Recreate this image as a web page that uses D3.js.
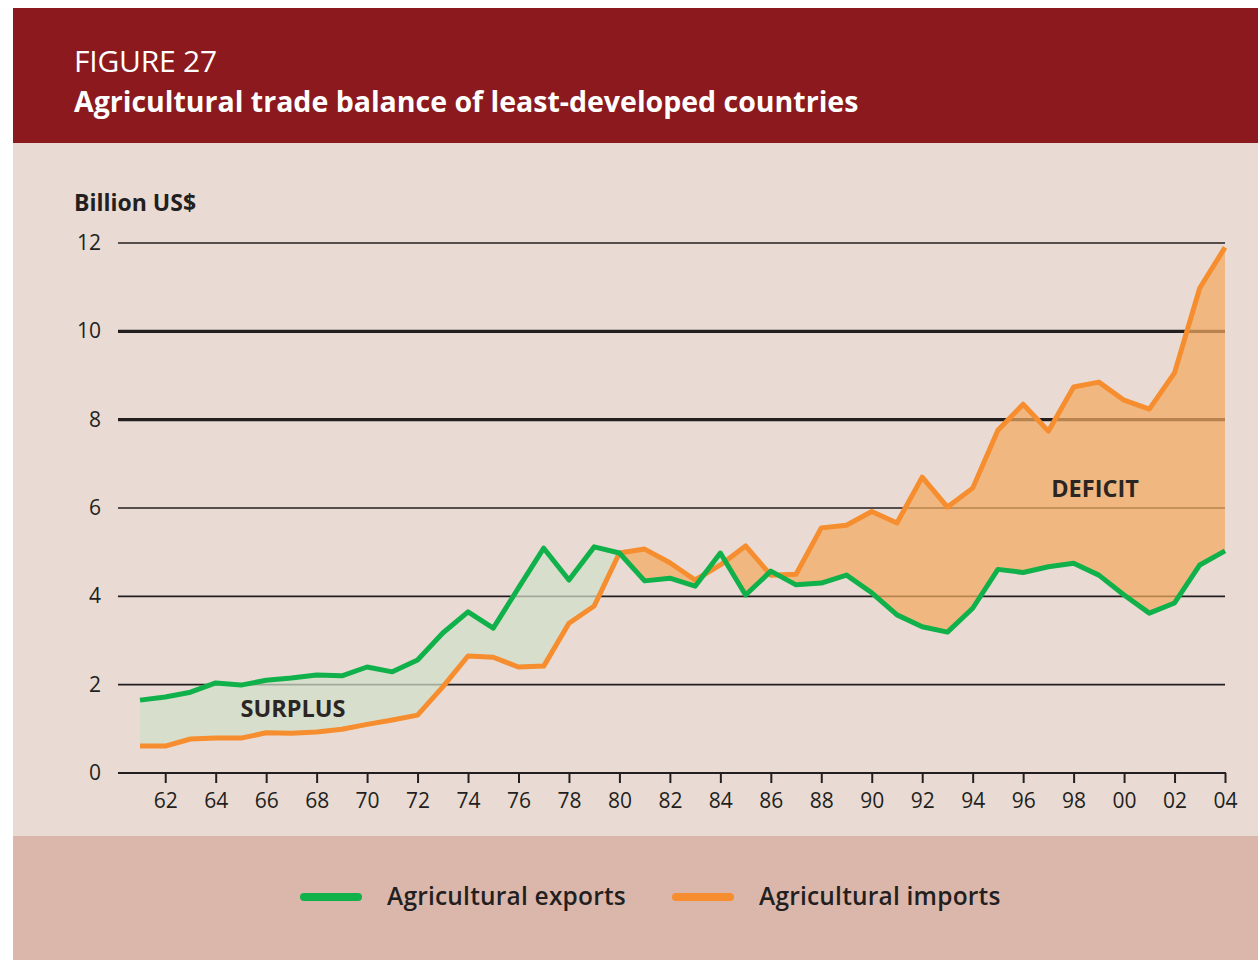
<!DOCTYPE html>
<html>
<head>
<meta charset="utf-8">
<script src="https://cdn.jsdelivr.net/npm/d3@7"></script>
<style>
  html, body { margin: 0; padding: 0; background: #fff; }
  svg { display: block; font-family: 'Open Sans', 'Noto Sans', sans-serif; }
</style>
</head>
<body>
<div id="chart"></div>
<script>
/* Data (billion US$) */
const years = d3.range(1961, 2005);
const agriExports = [
  1.65, 1.72, 1.83, 2.04, 1.99, 2.10, 2.15, 2.22, 2.20, 2.40,
  2.29, 2.56, 3.17, 3.65, 3.28, 4.19, 5.09, 4.37, 5.12, 4.98,
  4.35, 4.41, 4.23, 4.98, 4.03, 4.57, 4.26, 4.30, 4.48, 4.08,
  3.58, 3.31, 3.19, 3.73, 4.61, 4.54, 4.67, 4.75, 4.48, 4.03,
  3.62, 3.85, 4.71, 5.03
];
const agriImports = [
  0.61, 0.61, 0.77, 0.79, 0.79, 0.91, 0.90, 0.93, 0.99, 1.10,
  1.20, 1.31, 1.95, 2.65, 2.62, 2.40, 2.42, 3.39, 3.78, 4.98,
  5.07, 4.76, 4.37, 4.71, 5.14, 4.48, 4.50, 5.55, 5.61, 5.92,
  5.66, 6.70, 6.02, 6.45, 7.76, 8.35, 7.74, 8.74, 8.85, 8.44,
  8.24, 9.06, 10.98, 11.90
];
const yTicks = [0, 2, 4, 6, 8, 10, 12];
const heavyTicks = [8, 10];
const xTickYears = d3.range(1962, 2005, 2);
const seriesNames = ['Agricultural exports', 'Agricultural imports'];

/* Local constants */
const COLORS = {
  header: '#8b191d',
  panel: '#e9dbd3',
  legendBand: '#dbb7ab',
  ink: '#231f20',
  exports: '#10b14b',
  imports: '#f68d2e',
  surplus: '#d1dfc9',
  deficit: '#f3aa5f'
};
const W = 1258;
const H = 960;
const plot = { left: 140, right: 1225, top: 243, bottom: 773 };

const data = years.map((yr, i) => ({ year: yr, exp: agriExports[i], imp: agriImports[i] }));

const svg = d3.select('#chart')
  .append('svg')
  .attr('width', W)
  .attr('height', H);

// background blocks
svg.append('rect').attr('x', 13).attr('y', 8).attr('width', W - 13).attr('height', 135).attr('fill', COLORS.header);
svg.append('rect').attr('x', 13).attr('y', 143).attr('width', W - 13).attr('height', 693).attr('fill', COLORS.panel);
svg.append('rect').attr('x', 13).attr('y', 836).attr('width', W - 13).attr('height', H - 836).attr('fill', COLORS.legendBand);

// header
svg.append('text')
  .attr('x', 74).attr('y', 72)
  .attr('fill', '#fff')
  .style('font-size', '30px')
  .style('letter-spacing', '-0.2px')
  .text('FIGURE 27');
svg.append('text')
  .attr('x', 74).attr('y', 112)
  .attr('fill', '#fff')
  .style('font-size', '28.5px')
  .style('font-weight', 'bold')
  .text('Agricultural trade balance of least-developed countries');

const x = d3.scaleLinear().domain([1961, 2004]).range([plot.left, plot.right]);
const y = d3.scaleLinear().domain([0, 12]).range([plot.bottom, plot.top]);

// y-axis title
svg.append('text')
  .attr('x', 74).attr('y', 211)
  .attr('fill', COLORS.ink)
  .style('font-size', '23px')
  .style('font-weight', 'bold')
  .text('Billion US$');

// gridlines (0 line is the axis baseline)
const grid = svg.append('g');
grid.selectAll('line')
  .data(yTicks.filter((t) => t > 0))
  .join('line')
  .attr('x1', 118).attr('x2', plot.right)
  .attr('y1', (d) => y(d)).attr('y2', (d) => y(d))
  .attr('stroke', COLORS.ink)
  .attr('stroke-width', (d) => (heavyTicks.includes(d) ? 3.2 : 1.6));

svg.append('g')
  .selectAll('text')
  .data(yTicks)
  .join('text')
  .attr('x', 101)
  .attr('y', (d) => y(d) + 7)
  .attr('text-anchor', 'end')
  .attr('fill', COLORS.ink)
  .style('font-size', '21px')
  .text((d) => d);

// difference areas with clip paths
const defs = svg.append('defs');
defs.append('clipPath').attr('id', 'clip-above-exp')
  .append('path')
  .attr('d', d3.area().x((d) => x(d.year)).y0(0).y1((d) => y(d.exp))(data));
defs.append('clipPath').attr('id', 'clip-above-imp')
  .append('path')
  .attr('d', d3.area().x((d) => x(d.year)).y0(0).y1((d) => y(d.imp))(data));

const between = d3.area()
  .x((d) => x(d.year))
  .y0((d) => y(d.exp))
  .y1((d) => y(d.imp));

svg.append('path')
  .attr('d', between(data))
  .attr('clip-path', 'url(#clip-above-exp)')
  .attr('fill', COLORS.deficit)
  .attr('fill-opacity', 0.72);
svg.append('path')
  .attr('d', between(data))
  .attr('clip-path', 'url(#clip-above-imp)')
  .attr('fill', COLORS.surplus)
  .attr('fill-opacity', 0.72);

// x axis
const xAxis = svg.append('g')
  .attr('transform', `translate(0,${plot.bottom})`)
  .call(d3.axisBottom(x)
    .tickValues(xTickYears)
    .tickSize(10)
    .tickSizeOuter(0)
    .tickFormat((d) => String(d % 100).padStart(2, '0')));
xAxis.select('.domain').remove();
xAxis.insert('line', ':first-child')
  .attr('x1', 118).attr('x2', plot.right + 1)
  .attr('stroke', COLORS.ink).attr('stroke-width', 2);
xAxis.selectAll('.tick line').attr('stroke', COLORS.ink).attr('stroke-width', 2);
xAxis.selectAll('.tick text')
  .attr('y', 20)
  .attr('fill', COLORS.ink)
  .style('font-family', "'Open Sans', sans-serif")
  .style('font-size', '21px');

// lines
const lineExp = d3.line().x((d) => x(d.year)).y((d) => y(d.exp));
const lineImp = d3.line().x((d) => x(d.year)).y((d) => y(d.imp));
svg.append('path').attr('d', lineImp(data))
  .attr('fill', 'none').attr('stroke', COLORS.imports)
  .attr('stroke-width', 5).attr('stroke-linejoin', 'round');
svg.append('path').attr('d', lineExp(data))
  .attr('fill', 'none').attr('stroke', COLORS.exports)
  .attr('stroke-width', 5).attr('stroke-linejoin', 'round');

// area labels
svg.append('text')
  .attr('x', 293).attr('y', 717)
  .attr('text-anchor', 'middle')
  .attr('fill', '#2b2624')
  .style('font-size', '23.5px').style('font-weight', 'bold')
  .text('SURPLUS');
svg.append('text')
  .attr('x', 1095).attr('y', 497)
  .attr('text-anchor', 'middle')
  .attr('fill', '#2b2624')
  .style('font-size', '23.5px').style('font-weight', 'bold')
  .text('DEFICIT');

// legend
const legendItems = [
  { name: seriesNames[0], color: COLORS.exports, x: 300 },
  { name: seriesNames[1], color: COLORS.imports, x: 672 }
];
const legend = svg.append('g')
  .selectAll('g')
  .data(legendItems)
  .join('g')
  .attr('transform', (d) => `translate(${d.x},897)`);
legend.append('line')
  .attr('x1', 4).attr('x2', 58)
  .attr('stroke', (d) => d.color)
  .attr('stroke-width', 8)
  .attr('stroke-linecap', 'round');
legend.append('text')
  .attr('x', 87).attr('y', 8)
  .attr('fill', COLORS.ink)
  .style('font-size', '24.5px').style('font-weight', 600)
  .style('letter-spacing', '0.2px')
  .text((d) => d.name);
</script>
</body>
</html>
